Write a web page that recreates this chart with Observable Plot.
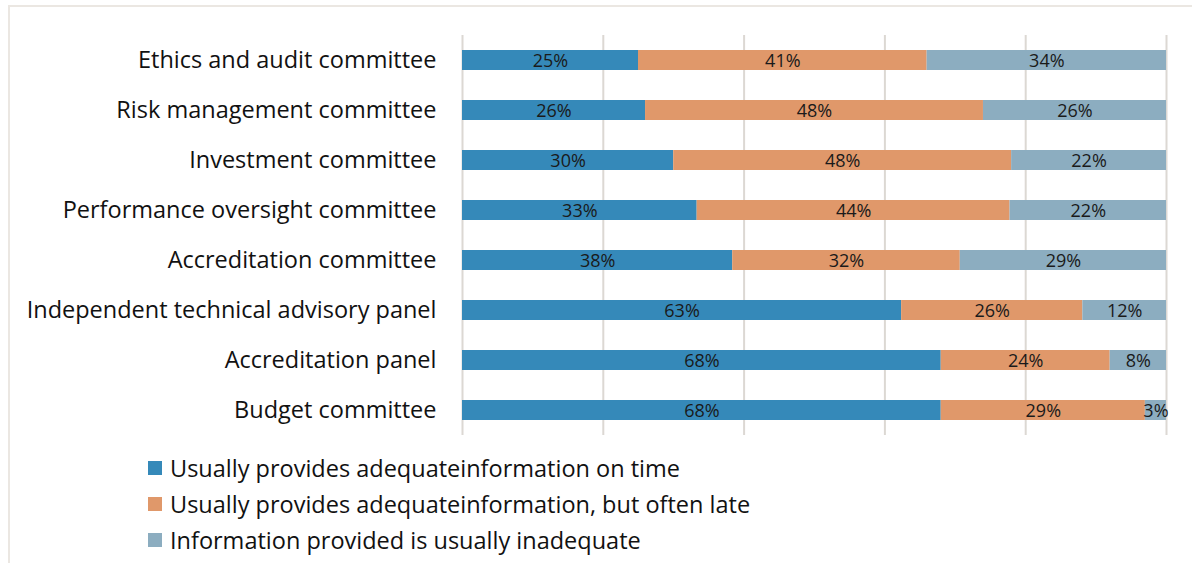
<!DOCTYPE html>
<html>
<head>
<meta charset="utf-8">
<script src="https://cdn.jsdelivr.net/npm/d3@7"></script>
<script src="https://cdn.jsdelivr.net/npm/@observablehq/plot@0.6"></script>
<style>
  html, body { margin: 0; padding: 0; background: #fff; width: 1192px; height: 563px; overflow: hidden; }
  body { position: relative; font-family: "Open Sans", Lato, sans-serif; }
  #frame { position: absolute; left: 8px; top: 5px; width: 1300px; height: 700px; border-top: 2px solid #ebe7e2; border-left: 2px solid #ebe7e2; }
  #chart { position: absolute; left: 0; top: 0; }
  #legend { position: absolute; left: 148px; top: 450px; font-size: 23.5px; color: #111; }
  .row { display: flex; align-items: center; height: 36px; }
  .sw { width: 14px; height: 14px; margin-right: 8px; }
</style>
</head>
<body>
<div id="frame"></div>
<div id="chart"></div>
<div id="legend"></div>
<script>
const categories = [
  "Ethics and audit committee",
  "Risk management committee",
  "Investment committee",
  "Performance oversight committee",
  "Accreditation committee",
  "Independent technical advisory panel",
  "Accreditation panel",
  "Budget committee"
];
const seriesNames = [
  "Usually provides adequateinformation on time",
  "Usually provides adequateinformation, but often late",
  "Information provided is usually inadequate"
];
const onTime     = [25, 26, 30, 33, 38, 63, 68, 68];
const late       = [41, 48, 48, 44, 32, 26, 24, 29];
const inadequate = [34, 26, 22, 22, 29, 12, 8, 3];
const xTicks = [0, 20, 40, 60, 80, 100];
const colors = ["#3589b9", "#e0986a", "#8cadc0"];

const seriesValues = [onTime, late, inadequate];
const data = [];
categories.forEach((c, i) => {
  seriesNames.forEach((s, j) => {
    data.push({category: c, series: s, value: seriesValues[j][i]});
  });
});

const chart = Plot.plot({
  width: 1192,
  height: 440,
  marginLeft: 462,
  marginRight: 26,
  marginTop: 35,
  marginBottom: 5,
  style: {fontFamily: "'Open Sans', Lato, sans-serif", background: "transparent"},
  x: {domain: [0, 1], axis: null},
  y: {domain: categories, paddingInner: 0.6, paddingOuter: 0.29, axis: null},
  color: {domain: seriesNames, range: colors},
  marks: [
    Plot.gridX(xTicks.map(d => d / 100), {stroke: "#dcd8d3", strokeOpacity: 1, strokeWidth: 2}),
    Plot.barX(data, Plot.stackX({x: "value", y: "category", fill: "series", offset: "normalize"})),
    Plot.text(data, Plot.stackX({x: "value", y: "category", z: "series", offset: "normalize",
      text: d => d.value + "%", fontSize: 18, fill: "#1a1a1a", dy: 1})),
    Plot.axisY({tickSize: 0, tickPadding: 26, fontSize: 23.5, fill: "#111", label: null})
  ]
});
document.getElementById("chart").appendChild(chart);

const legend = document.getElementById("legend");
seriesNames.forEach((s, j) => {
  const row = document.createElement("div");
  row.className = "row";
  const sw = document.createElement("div");
  sw.className = "sw";
  sw.style.background = colors[j];
  const t = document.createElement("span");
  t.textContent = s;
  row.appendChild(sw);
  row.appendChild(t);
  legend.appendChild(row);
});
</script>
</body>
</html>
